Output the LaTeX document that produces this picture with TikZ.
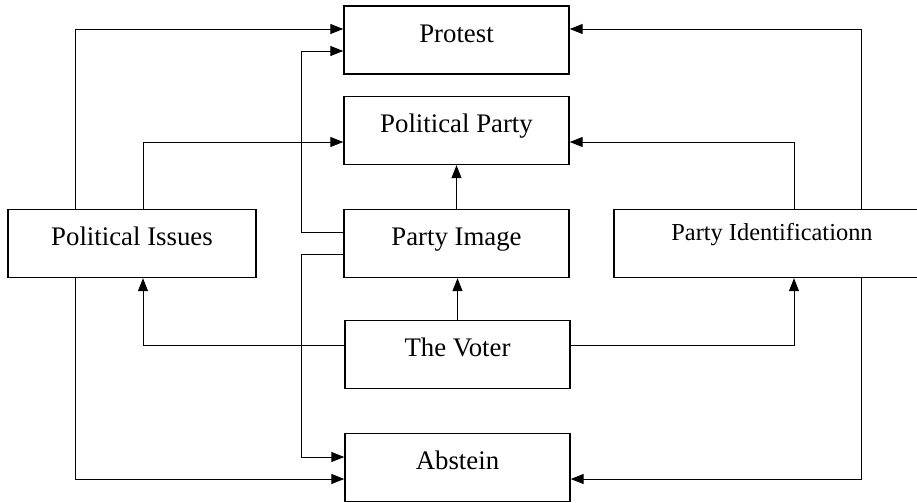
\documentclass[tikz,border=0pt]{standalone}
\usepackage{fontspec}
\setmainfont{Liberation Serif}
\usetikzlibrary{arrows.meta}
\tikzset{box/.style = {draw, line width = 0.7pt, minimum width = 112.5pt, inner sep = 0, text height = 18pt, text depth = 16pt, font = \fontsize{13.4}{16}\selectfont}}
\tikzset{arr/.style = {line width = 0.5pt, -{Triangle[length = 6.5pt, width = 5pt]}}}

\begin{document}
\begin{tikzpicture}[x = 0.5pt, y = -0.5pt]
    \useasboundingbox (0,0) rectangle (917,503);
	\node [box] (prot) at (456.5,40) {Protest};
	\node [box] (party) at (456.5,130.5) {Political Party};
	\node [box] (image) at (456.5,243.5) {Party Image};
	\node [box] (voter) at (457.5,354.5) {The Voter};
	\node [box] (abst) at (457.5,467.5) {Abstein};
	\node [box, minimum width = 124pt] (issues) at (132,243.5) {Political Issues};
	\node [box, minimum width = 158pt, text height = 15.5pt, text depth = 18.5pt,
	       font = \fontsize{12.2}{14}\selectfont] (ident) at (772,243.5) {Party Identificationn};
	\coordinate (c1) at (75,0);
	\coordinate (c2) at (143,0);
	\coordinate (c3) at (301,0);
	\coordinate (c4) at (794,0);
	\coordinate (c5) at (861,0);
	\coordinate (r1) at (0,29);
	\coordinate (r2) at (0,51);
	\coordinate (r3) at (0,142);
	\coordinate (r4) at (0,232);
	\coordinate (r5) at (0,254);
	\coordinate (r6) at (0,345);
	\coordinate (r7) at (0,457);
	\coordinate (r8) at (0,479);
	\draw [arr] (issues.north -| c1) |- (prot.west |- r1);
	\draw [arr] (issues.north -| c2) |- (party.west |- r3);
	\draw [arr] (image.west |- r4) -| (c3 |- r2) -- (prot.west |- r2);
	\draw [arr] (image.west |- r5) -| (c3 |- r7) -- (abst.west |- r7);
	\draw [arr] (issues.south -| c1) |- (abst.west |- r8);
	\draw [arr] (voter.west |- r6) -| (issues.south -| c2);
	\draw [arr] (voter.north) -- (voter.north |- image.south);
	\draw [arr] (image.north) -- (party.south);
	\draw [arr] (voter.east |- r6) -| (ident.south -| c4);
	\draw [arr] (ident.north -| c4) |- (party.east |- r3);
	\draw [arr] (ident.north -| c5) |- (prot.east |- r1);
	\draw [arr] (ident.south -| c5) |- (abst.east |- r8);
  \end{tikzpicture}
\end{document}
